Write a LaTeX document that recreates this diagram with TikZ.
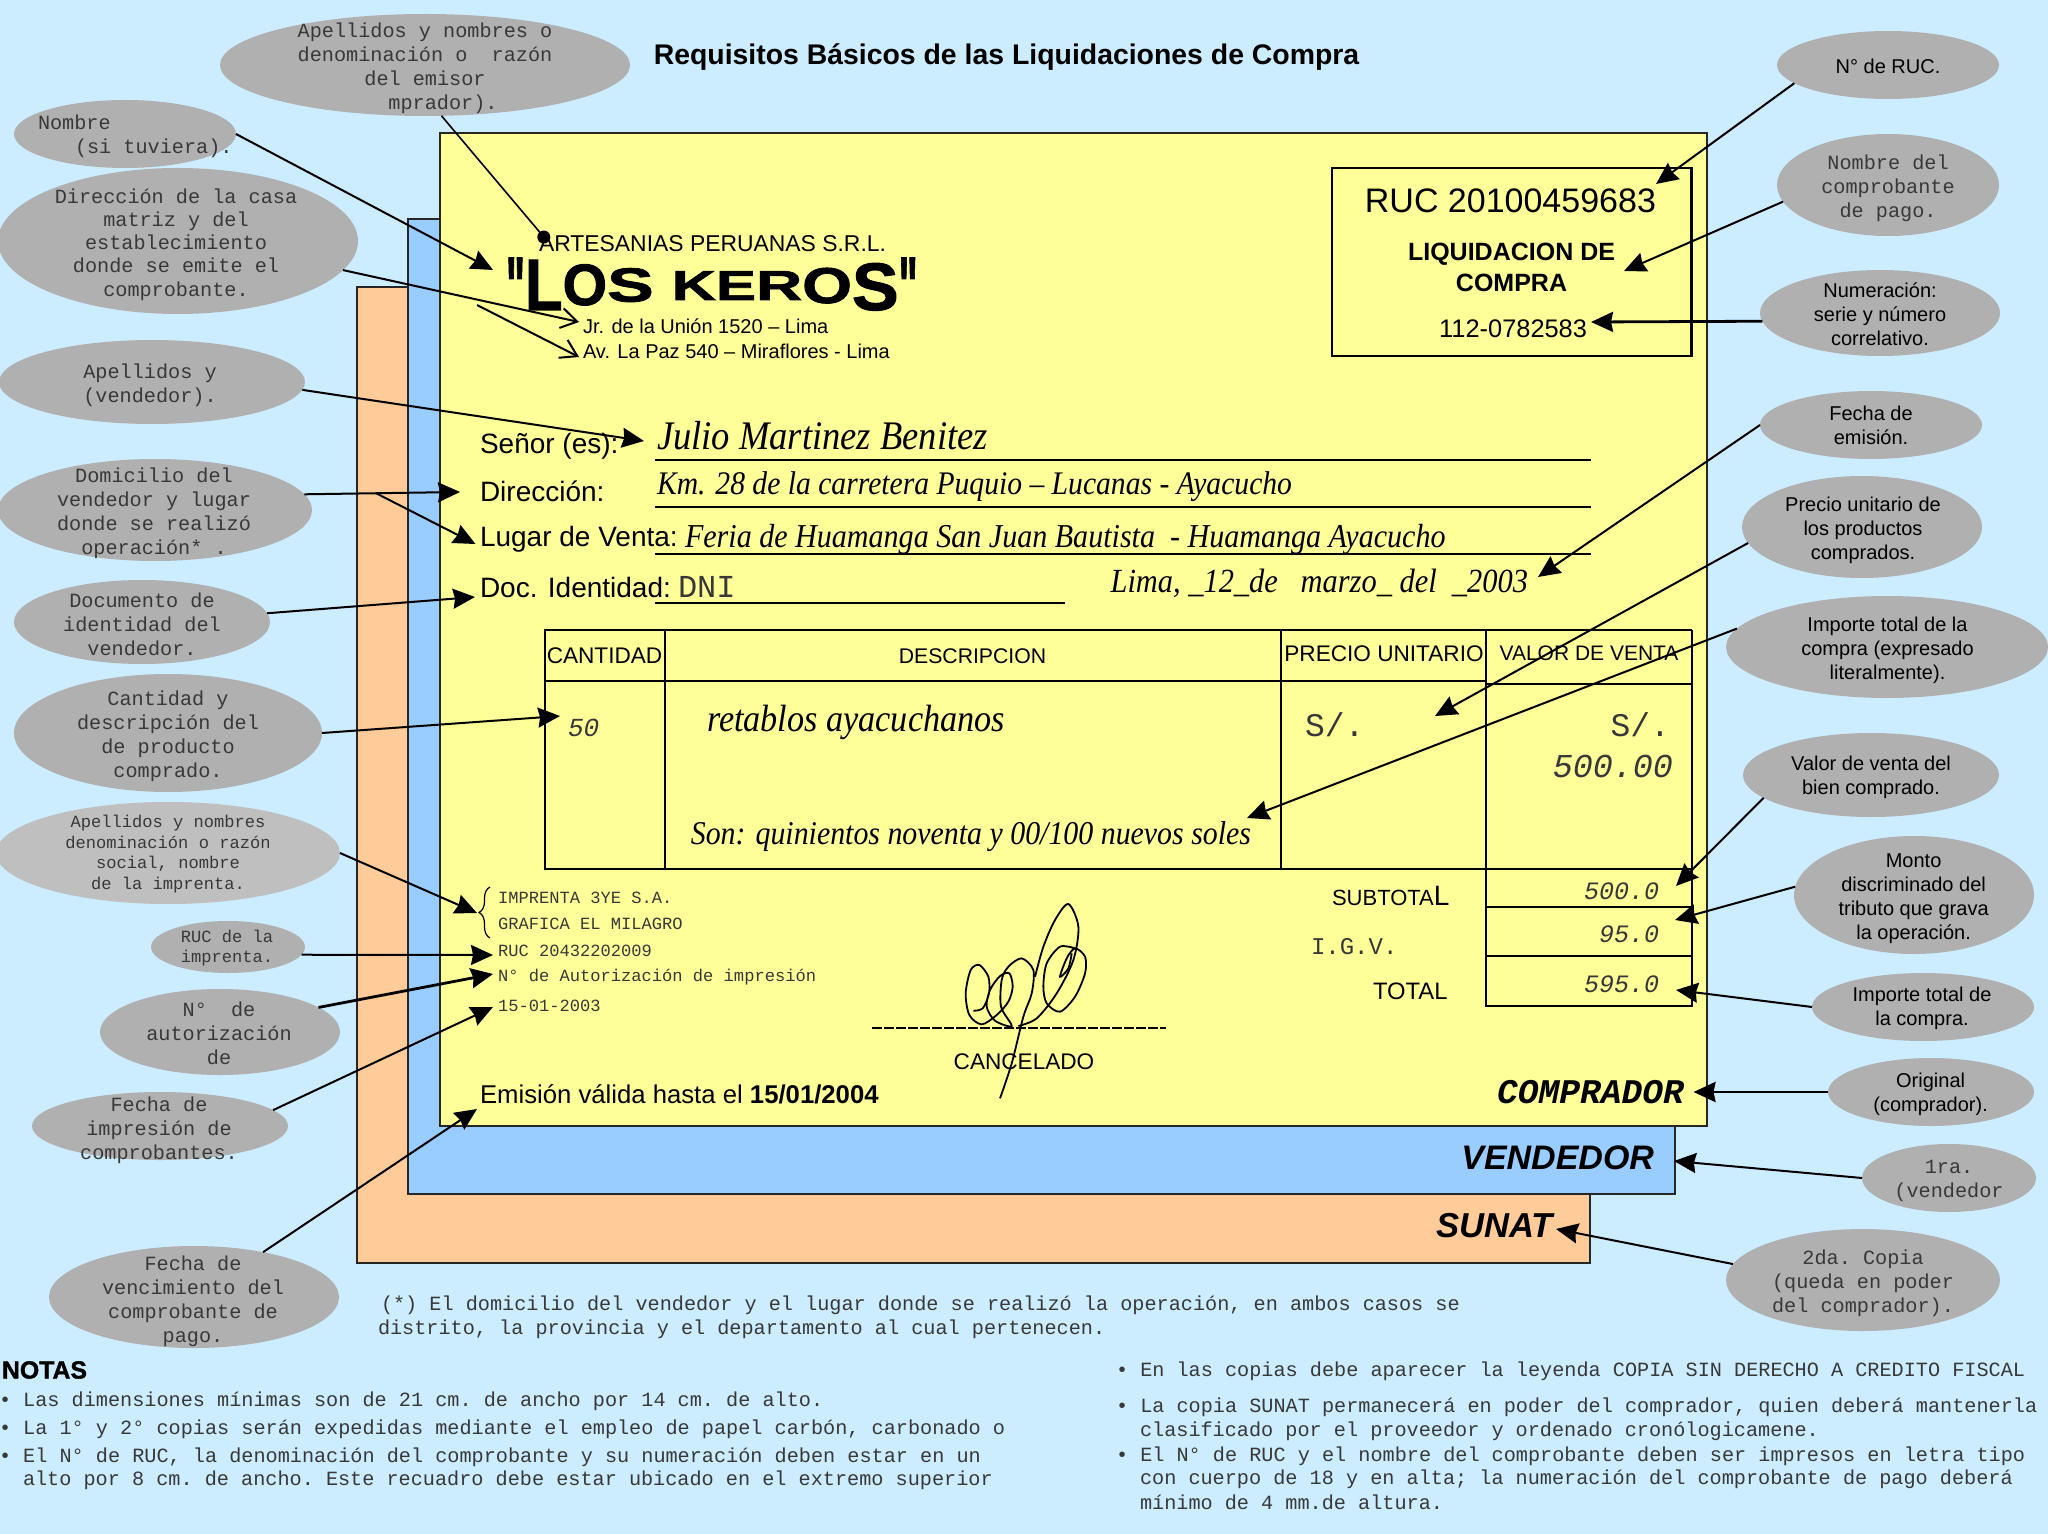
\documentclass[tikz,border=0pt]{standalone}
\usepackage{fontspec}
\setmainfont{Liberation Sans}
\setmonofont{Liberation Mono}
\newfontfamily\corsivafont[FakeStretch=0.9]{Liberation Serif}
\newfontfamily\heavyfont[BoldFeatures={FakeBold=1.5}]{Liberation Sans}
\usetikzlibrary{arrows.meta,shapes.geometric,decorations.pathreplacing}
\definecolor{pagebg}{HTML}{CCECFF}
\definecolor{formyellow}{HTML}{FFFF99}
\definecolor{formblue}{HTML}{99CCFF}
\definecolor{formorange}{HTML}{FFCC99}
\definecolor{bubblegray}{HTML}{B0B0B0}
\definecolor{monoink}{gray}{0.22}
\begin{document}
\begin{tikzpicture}[
  x=0.5pt, y=-0.5pt,
  every node/.style={inner sep=0pt, outer sep=0pt},
  sheet/.style={draw=black!85, line width=1pt},
  bubble/.style={ellipse, fill=bubblegray},
  arial/.style={font=\fontsize{#1}{12pt}\selectfont, align=center},
  courier/.style={font=\ttfamily\fontsize{#1}{12pt}\selectfont, text=monoink, align=center},
  couriersmall/.style={font=\ttfamily\fontsize{8.55}{10.3pt}\selectfont, text=monoink, align=center},
  courierslant/.style={font=\ttfamily\itshape\fontsize{#1}{12pt}\selectfont, text=monoink},
  corsiva/.style={font=\corsivafont\itshape\fontsize{#1}{12pt}\selectfont},
  arrow/.style={-{Stealth[length=11pt,width=10pt,inset=1pt]}, line width=1pt},
  arrowbold/.style={arrow, line width=1.4pt},
  openarrow/.style={-{Straight Barb[length=8pt,width=10pt]}, line width=1pt},
  rule/.style={line width=1pt},
  rulebold/.style={line width=1.4pt}
]
\useasboundingbox (0,0) rectangle (2048,1534);
\fill[pagebg] (0,0) rectangle (2048,1534);

% Three copies of the form
\draw[sheet, fill=formorange] (356.6,287) rectangle (1589.6,1263);
\draw[sheet, fill=formblue] (407.6,219) rectangle (1674.5,1194);
\draw[sheet, fill=formyellow] (440,133) rectangle (1706.5,1126);

% Title
\node[font=\bfseries\fontsize{14.2}{16}\selectfont] (title) at (1006.5,57) {Requisitos Básicos de las Liquidaciones de Compra};

% Bubbles on the left
\node[bubble, minimum width=205pt, minimum height=51pt] (emisor) at (425,65) {};
\node[bubble, minimum width=111pt, minimum height=34pt] (nombre) at (125,134) {};
\node[bubble, minimum width=180pt, minimum height=73pt] (casamatriz) at (178,241) {};
\node[bubble, minimum width=153pt, minimum height=42pt] (vendedor) at (152,382) {};
\node[bubble, minimum width=157pt, minimum height=51pt] (domicilio) at (155,510) {};
\node[bubble, minimum width=128pt, minimum height=42pt] (documento) at (142,622) {};
\node[bubble, minimum width=154pt, minimum height=59pt] (cantidad) at (168,733) {};
\node[bubble, fill=black!25, minimum width=172pt, minimum height=51pt] (imprenta) at (168,853) {};
\node[bubble, minimum width=77pt, minimum height=26pt] (rucimprenta) at (228,947) {};
\node[bubble, minimum width=120pt, minimum height=43pt] (autorizacion) at (220,1032) {};
\node[bubble, minimum width=128pt, minimum height=34pt] (impresion) at (160,1126) {};
\node[bubble, minimum width=145pt, minimum height=51pt] (vencimiento) at (194,1297) {};

% Bubbles on the right
\node[bubble, minimum width=111pt, minimum height=34pt] (nruc) at (1888,65) {};
\node[bubble, minimum width=111pt, minimum height=51pt] (comprobante) at (1888,185) {};
\node[bubble, minimum width=120pt, minimum height=43pt] (numeracion) at (1880,313) {};
\node[bubble, minimum width=111pt, minimum height=34pt] (emision) at (1871,425) {};
\node[bubble, minimum width=120pt, minimum height=51pt] (precio) at (1862,527) {};
\node[bubble, minimum width=161pt, minimum height=51pt] (literal) at (1887,647) {};
\node[bubble, minimum width=128pt, minimum height=42pt] (valor) at (1871,775) {};
\node[bubble, minimum width=120pt, minimum height=59pt] (monto) at (1914,895) {};
\node[bubble, minimum width=111pt, minimum height=34pt] (importe) at (1923,1007) {};
\node[bubble, minimum width=103pt, minimum height=34pt] (original) at (1931,1092) {};
\node[bubble, minimum width=87pt, minimum height=34pt] (primera) at (1949,1178) {};
\node[bubble, minimum width=137pt, minimum height=51pt] (segunda) at (1863,1280) {};

% Bubble texts, left
\node[courier=10.1] (emisortxt) at (425,68) {Apellidos y nombres o\\denominación o~~razón\\del emisor\\\hspace*{18pt}mprador).};
\node[courier=10.1, anchor=west, align=left] (nombretxt) at (38,136.5) {Nombre\\\hspace*{18.5pt}(si tuviera).};
\node[courier=10.1] (casamatriztxt) at (176,244.5) {Dirección de la casa\\[-0.4pt]matriz y del\\[-0.4pt]establecimiento\\[-0.4pt]donde se emite el\\[-0.4pt]comprobante.};
\node[courier=10.1] (vendedortxt) at (150,385.5) {Apellidos y\\(vendedor).};
\node[courier=10.1] (domiciliotxt) at (154,513.5) {Domicilio del\\vendedor y lugar\\donde se realizó\\operación* .};
\node[courier=10.1] (documentotxt) at (142,624.5) {Documento de\\identidad del\\vendedor.};
\node[courier=10.1] (cantidadtxt) at (168,736.5) {Cantidad y\\descripción del\\de producto\\comprado.};
\node[couriersmall] (imprentatxt) at (168,854) {Apellidos y nombres\\denominación o razón\\social, nombre\\de la imprenta.};
\node[couriersmall] (rucimprentatxt) at (227,948) {RUC de la\\imprenta.};
\node[courier=10.1] (autorizaciontxt) at (219,1033) {N°~~de\\autorización\\de};
\node[courier=10.1] (impresiontxt) at (159,1130.5) {Fecha de\\impresión de\\comprobantes.};
\node[courier=10.1] (vencimientotxt) at (193,1301.5) {Fecha de\\vencimiento del\\comprobante de\\pago.};

% Bubble texts, right
\node[arial=10] (nructxt) at (1888,66) {N° de RUC.};
\node[courier=10.1] (comprobantetxt) at (1888,188) {Nombre del\\comprobante\\de pago.};
\node[arial=10] (numeraciontxt) at (1880,314) {Numeración:\\serie y número\\correlativo.};
\node[arial=10] (emisiontxt) at (1871,425) {Fecha de\\emisión.};
\node[arial=10] (preciotxt) at (1863,530) {Precio unitario de\\los productos\\comprados.};
\node[arial=10] (literaltxt) at (1887.5,650) {Importe total de la\\compra (expresado\\literalmente).};
\node[arial=10] (valortxt) at (1871,777) {Valor de venta del\\bien comprado.};
\node[arial=10] (montotxt) at (1913.6,898.5) {Monto\\discriminado del\\tributo que grava\\la operación.};
\node[arial=10] (importetxt) at (1922,1008.5) {Importe total de\\la compra.};
\node[arial=10] (originaltxt) at (1930.6,1094) {Original\\(comprador).};
\node[courier=10.1] (primeratxt) at (1949,1181) {1ra.\\(vendedor};
\node[courier=10.1] (segundatxt) at (1863,1283) {2da. Copia\\(queda en poder\\del comprador).};

% Header of the form
\node[arial=11.45, anchor=west] (artesanias) at (539,244) {ARTESANIAS PERUANAS S.R.L.};
\node[font=\heavyfont\bfseries\fontsize{20}{20}\selectfont, anchor=base west] (keros) at (506,300) {\raisebox{-7.8pt}{\scalebox{1}[2.1]{"}}\raisebox{-5pt}{\scalebox{1.54}[1.82]{L}}\raisebox{-2.5pt}{\scalebox{1.43}[1.46]{O}}\raisebox{-0.8pt}{\scalebox{1.75}[1.2]{S}}\hspace{9pt}\scalebox{1.53}[1.05]{K}\scalebox{1.5}[1.05]{E}\scalebox{1.6}[1.05]{R}\raisebox{-1.5pt}{\scalebox{1.6}[1.26]{O}}\raisebox{-5pt}{\scalebox{1.75}[1.68]{S}}\raisebox{-7.8pt}{\scalebox{1}[2.1]{"}}};
\node[arial=10, anchor=west] (jirondir) at (583,326) {Jr. de la Unión 1520 – Lima};
\node[arial=10, anchor=west] (avenidadir) at (583,351) {Av. La Paz 540 – Miraflores - Lima};

% RUC box
\draw[rulebold] (1332,168) rectangle (1691.5,356);
\node[arial=17, anchor=east] (rucnum) at (1656,201) {RUC 20100459683};
\node[font=\bfseries\fontsize{12.5}{15.5}\selectfont, align=center] (liquidacion) at (1511.5,267) {LIQUIDACION DE\\COMPRA};
\node[arial=12.7, anchor=east] (numcomp) at (1587,329) {112-0782583};

% Customer lines
\node[arial=14, anchor=west] (senor) at (480,446) {Señor (es):};
\node[arial=14, anchor=west] (direccion) at (480,491) {Dirección:};
\node[arial=14, anchor=west] (lugar) at (480,539) {Lugar de Venta:};
\node[arial=14, anchor=west] (docid) at (480,587) {Doc. Identidad:};
\node[corsiva=20.3, anchor=west] (julio) at (657,436) {Julio Martinez Benitez};
\node[corsiva=16.46, anchor=west] (kilometro) at (657,487) {Km. 28 de la carretera Puquio – Lucanas - Ayacucho};
\node[corsiva=16.7, anchor=west] (feria) at (685,540) {Feria de Huamanga San Juan Bautista~~- Huamanga Ayacucho};
\node[courier=16, anchor=west] (dni) at (678,587) {DNI};
\node[corsiva=16.9, anchor=east] (lima) at (1528,583) {Lima, \_12\_de~~~marzo\_ del~~\_2003};
\draw[rule] (654.5,460) -- (1591,460);
\draw[rule] (654.5,507) -- (1591,507);
\draw[rule] (654.5,554) -- (1591,554);
\draw[rule] (654.5,603) -- (1064.5,603);

% Table
\draw[rulebold] (545,630) rectangle (665,681);
\draw[rule] (665,630) -- (1691.5,630);
\draw[rule] (665,681) -- (1486,681);
\draw[rule] (1486,684) -- (1691.5,684);
\draw[rule] (545,681) -- (545,869) -- (1691.5,869);
\draw[rule] (665,681) -- (665,869);
\draw[rule] (1281,630) -- (1281,869);
\draw[rule] (1486,630) -- (1486,1006) -- (1691.5,1006) -- (1691.5,630);
\draw[rule] (1486,907) -- (1691.5,907);
\draw[rule] (1486,956) -- (1691.5,956);
\node[arial=11.3] (hcantidad) at (604.5,656) {CANTIDAD};
\node[arial=10.6] (hdescripcion) at (972.5,656) {DESCRIPCION};
\node[arial=11.3] (hprecio) at (1384,654) {PRECIO UNITARIO};
\node[arial=10.5] (hvalor) at (1589,653) {VALOR DE VENTA};
\node[courierslant=13, anchor=west] (cincuenta) at (568,728) {50};
\node[corsiva=19, anchor=west] (retablos) at (707,722) {retablos ayacuchanos};
\node[corsiva=16.6, anchor=east] (son) at (1251,837) {Son: quinientos noventa y 00/100 nuevos soles};
\node[courier=16.5, anchor=west] (solesprecio) at (1305,725) {S/.};
\node[courier=16.5, anchor=east] (solesvalor) at (1670,725) {S/.};
\node[courierslant=16.7, anchor=east] (quinientos) at (1673,766) {500.00};

% Totals
\node[arial=11, anchor=west] (subtotal) at (1332,896) {SUBTOTA{\fontsize{14}{14}\selectfont L}};
\node[courier=12, anchor=west] (igv) at (1311,947) {I.G.V.};
\node[arial=11.9, anchor=west] (total) at (1373,991) {TOTAL};
\node[courierslant=12.5, anchor=east] (subvalor) at (1659,891) {500.0};
\node[courierslant=12.5, anchor=east] (igvvalor) at (1659,934) {95.0};
\node[courierslant=12.5, anchor=east] (totalvalor) at (1659,984) {595.0};

% Printer data
\coordinate (bracelow) at (490,938);
\coordinate (bracehigh) at (490,887);
\coordinate (bracetip) at (477,913);
\draw[line width=0.6pt, decorate, decoration={brace, amplitude=5.5pt}] (bracelow) -- (bracehigh);
\node[courier=8.55, anchor=west] (imprentaname) at (498,898) {IMPRENTA 3YE S.A.};
\node[courier=8.55, anchor=west] (grafica) at (498,924) {GRAFICA EL MILAGRO};
\node[courier=8.55, anchor=west] (rucnumimp) at (498,951) {RUC 20432202009};
\node[courier=8.55, anchor=west] (nautor) at (498,977) {N° de Autorización de impresión};
\node[courier=8.55, anchor=west] (fechaimp) at (498,1006) {15-01-2003};
\node[arial=12.85, anchor=west] (validez) at (480,1094) {Emisión válida hasta el \textbf{15/01/2004}};

% Signature
\draw[line width=1pt, dash pattern=on 5pt off 1pt] (872,1028) -- (1166,1028);
\node[arial=11.3] (cancelado) at (1024,1062) {CANCELADO};
\begin{scope}[shift={(940,890)}, x=0.1667pt, y=-0.1667pt]
\draw[line width=0.9pt] plot[smooth] coordinates {(100,362) (128,355) (147,310) (145,260) (118,225) (92,240) (77,310) (88,375) (125,403) (170,375) (205,335) (218,290) (208,250) (180,258) (150,300) (140,350) (165,392) (215,408) (183,350) (185,270) (205,230) (245,205) (280,240) (275,310) (250,380) (215,520) (180,625)};
\draw[line width=0.9pt] plot[smooth] coordinates {(235,408) (290,385) (350,310) (400,210) (415,110) (385,42) (345,90) (310,170) (285,260)};
\draw[line width=0.9pt] plot[smooth] coordinates {(395,190) (385,235) (360,260) (380,205) (405,175) (435,200) (435,250) (405,320) (360,365) (320,340) (310,290) (320,220) (360,170) (405,175)};
\end{scope}

% Copy names
\node[font=\ttfamily\bfseries\itshape\fontsize{17.3}{17.3}\selectfont, anchor=east] (comprador) at (1684,1092) {COMPRADOR};
\node[font=\bfseries\itshape\fontsize{17}{17}\selectfont, anchor=east] (vendedorcopia) at (1654,1158) {VENDEDOR};
\node[font=\bfseries\itshape\fontsize{17.3}{17.3}\selectfont, anchor=east] (sunat) at (1553,1226) {SUNAT};

% Connectors, left
\draw[-{Circle[length=6.5pt]}, line width=0.8pt] (emisor.-72) -- ([shift={(4.5pt,1pt)}]artesanias.west);
\draw[arrow] (nombre.east) -- ([shift={(-6.5pt,15pt)}]keros.base west);
\draw[openarrow] (casamatriz.-10.5) -- ([shift={(-2pt,2pt)}]jirondir.west);
\coordinate (jirsplit) at (477,305);
\draw[openarrow] (jirsplit) -- ([shift={(-2pt,-3pt)}]avenidadir.west);
\draw[arrow] (vendedor.-3) -- ([shift={(-6.5pt,-2.5pt)}]julio.west);
\draw[arrow] (domicilio.6.5) -- ([shift={(-10pt,-0.5pt)}]direccion.west);
\coordinate (domsplit) at (375.6,493);
\draw[arrow] (domsplit) -- ([shift={(-2.25pt,-2.5pt)}]lugar.west);
\draw[arrow] (documento.4) -- ([shift={(-2.5pt,-5pt)}]docid.west);
\draw[arrow] (cantidad.east) -- ([shift={(-4pt,6pt)}]cincuenta.west);
\draw[arrow] (imprenta.east) -- (bracetip);
\draw[arrow] (rucimprenta.-6) -- ([shift={(-2.5pt,-2pt)}]rucnumimp.west);
\draw[arrowbold] (autorizacion.14) -- ([shift={(-2.5pt,1.5pt)}]nautor.west);
\draw[arrow] (impresion.8.7) -- ([shift={(-2.5pt,-0.5pt)}]fechaimp.west);
\draw[arrow] (vencimiento.33.5) -- ([shift={(-1.5pt,-7.5pt)}]validez.west);

% Connectors, right
\draw[arrow] (nruc.191.5) -- ([shift={(0pt,8.5pt)}]rucnum.east);
\draw[arrow] (comprobante.189.3) -- ([shift={(56.25pt,-2pt)}]liquidacion.center);
\draw[arrowbold] (numeracion.184.3) -- ([shift={(2pt,3.5pt)}]numcomp.east);
\draw[arrow] (emision.west) -- ([shift={(5pt,3pt)}]lima.east);
\draw[arrow] (precio.188) -- ([shift={(65pt,4.5pt)}]solesprecio.west);
\draw[arrow] (literal.173.3) -- ([shift={(-2pt,9.5pt)}]son.east);
\draw[arrow] (valor.192.8) -- ([shift={(8.5pt,2.5pt)}]subvalor.east);
\draw[arrow] (monto.176) -- ([shift={(8pt,7pt)}]igvvalor.east);
\draw[arrow] (importe.west) -- ([shift={(8.5pt,-3pt)}]totalvalor.east);
\draw[arrowbold] (original.west) -- ([shift={(4.75pt,0pt)}]comprador.east);
\draw[arrow] (primera.west) -- ([shift={(10pt,-1.5pt)}]vendedorcopia.east);
\draw[arrow] (segunda.173) -- ([shift={(1.5pt,-1.5pt)}]sunat.east);

% Footnote
\node[courier=10.1, anchor=west] (asterisco) at (381,1305) {(*) El domicilio del vendedor y el lugar donde se realizó la operación, en ambos casos se};
\node[courier=10.1, anchor=west] (distrito) at (378,1329) {distrito, la provincia y el departamento al cual pertenecen.};

% Notes, left
\node[font=\heavyfont\bfseries\fontsize{12.4}{14}\selectfont, anchor=west] (notas) at (2,1370) {NOTAS};
\node[courier=10.1, anchor=west] (notaa) at (-1,1401) {• Las dimensiones mínimas son de 21 cm. de ancho por 14 cm. de alto.};
\node[courier=10.1, anchor=west] (notab) at (-1,1429) {• La 1° y 2° copias serán expedidas mediante el empleo de papel carbón, carbonado o};
\node[courier=10.1, anchor=west] (notac) at (-1,1457) {• El N° de RUC, la denominación del comprobante y su numeración deben estar en un};
\node[courier=10.1, anchor=west] (notad) at (23,1480) {alto por 8 cm. de ancho. Este recuadro debe estar ubicado en el extremo superior};

% Notes, right
\node[courier=10.1, anchor=west] (notae) at (1116,1371) {• En las copias debe aparecer la leyenda COPIA SIN DERECHO A CREDITO FISCAL};
\node[courier=10.1, anchor=west] (notaf) at (1116,1407) {• La copia SUNAT permanecerá en poder del comprador, quien deberá mantenerla};
\node[courier=10.1, anchor=west] (notag) at (1140,1431) {clasificado por el proveedor y ordenado cronólogicamene.};
\node[courier=10.1, anchor=west] (notah) at (1116,1456) {• El N° de RUC y el nombre del comprobante deben ser impresos en letra tipo};
\node[courier=10.1, anchor=west] (notai) at (1140,1479) {con cuerpo de 18 y en alta; la numeración del comprobante de pago deberá};
\node[courier=10.1, anchor=west] (notaj) at (1140,1502) {mínimo de 4 mm.de altura.};
\end{tikzpicture}
\end{document}
